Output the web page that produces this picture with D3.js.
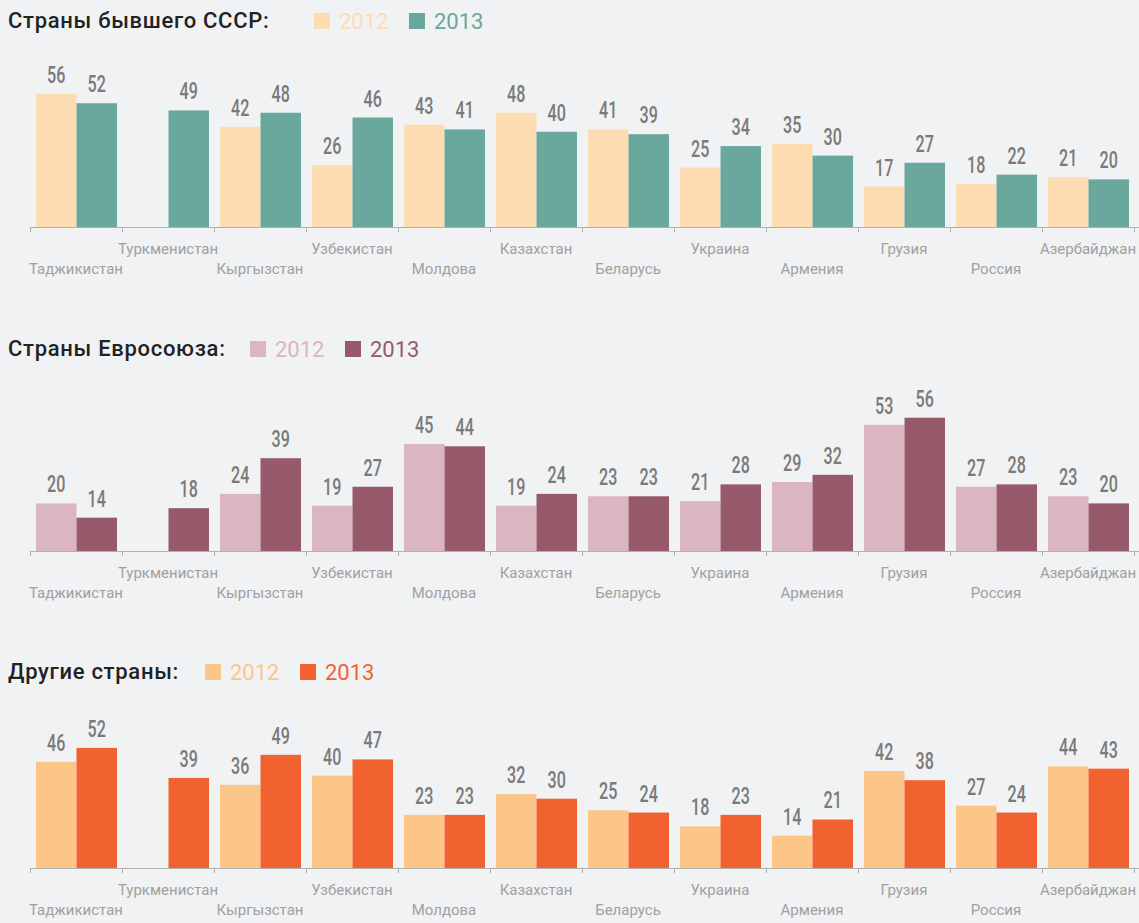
<!DOCTYPE html>
<html>
<head>
<meta charset="utf-8">
<script src="https://cdn.jsdelivr.net/npm/d3@7"></script>
<style>
body { margin: 0; background: #f1f2f4; }
svg { display: block; }
.title { font-family: Roboto, "Noto Sans", sans-serif; font-size: 22px; font-weight: 500; letter-spacing: 0.7px; fill: #222; }
.legend { font-family: Roboto, "Noto Sans", sans-serif; font-size: 22px; }
.val { font-family: Roboto, "Noto Sans", sans-serif; font-size: 23px; font-weight: 500; fill: #7a7a7a; }
.cat { font-family: Roboto, "Noto Sans", sans-serif; font-size: 15px; fill: #a0a0a0; }
.axis path, .axis line { stroke: #b0b0b0; }
</style>
</head>
<body>
<script>
var countries = ["Таджикистан", "Туркменистан", "Кыргызстан", "Узбекистан", "Молдова", "Казахстан",
                 "Беларусь", "Украина", "Армения", "Грузия", "Россия", "Азербайджан"];
var years = ["2012", "2013"];

var ussr2012 = [56, null, 42, 26, 43, 48, 41, 25, 35, 17, 18, 21];
var ussr2013 = [52, 49, 48, 46, 41, 40, 39, 34, 30, 27, 22, 20];
var eu2012 = [20, null, 24, 19, 45, 19, 23, 21, 29, 53, 27, 23];
var eu2013 = [14, 18, 39, 27, 44, 24, 23, 28, 32, 56, 28, 20];
var other2012 = [46, null, 36, 40, 23, 32, 25, 18, 14, 42, 27, 44];
var other2013 = [52, 39, 49, 47, 23, 30, 24, 23, 21, 38, 24, 43];

var panels = [
  {title: "Страны бывшего СССР:", a: ussr2012, b: ussr2013, ca: "#fddcb1", cb: "#6aa79c",
   titleY: 20, base: 227, pxPerUnit: 2.38, leg: [314, 409]},
  {title: "Страны Евросоюза:", a: eu2012, b: eu2013, ca: "#dbb6c0", cb: "#965a6b",
   titleY: 348, base: 551, pxPerUnit: 2.38, leg: [250, 345]},
  {title: "Другие страны:", a: other2012, b: other2013, ca: "#fdc689", cb: "#f2622e",
   titleY: 671, base: 868, pxPerUnit: 2.31, leg: [205, 300]}
];

var W = 1139, H = 923;
var svg = d3.select("body").append("svg").attr("width", W).attr("height", H);

var x = d3.scaleBand().domain(countries).range([30, 1134]).paddingInner(0).paddingOuter(0);
var inner = d3.scaleBand().domain(years).range([6, 87]);
var tickScale = d3.scaleLinear().domain([0, 12]).range([30, 1134]);

panels.forEach(function(p){
  var g = svg.append("g");
  var y = d3.scaleLinear().domain([0, 60]).range([p.base, p.base - 60 * p.pxPerUnit]);

  g.append("text").attr("class", "title").attr("x", 8).attr("y", p.titleY)
    .attr("dy", "0.35em").text(p.title);

  [[p.ca, "2012"], [p.cb, "2013"]].forEach(function(l, i){
    g.append("rect").attr("x", p.leg[i]).attr("y", p.titleY - 7)
      .attr("width", 16).attr("height", 16).attr("fill", l[0]);
    g.append("text").attr("class", "legend").attr("x", p.leg[i] + 25).attr("y", p.titleY + 1)
      .attr("dy", "0.35em").attr("fill", l[0]).text(l[1]);
  });

  var rows = [];
  countries.forEach(function(c, i){
    rows.push({c: c, yr: "2012", v: p.a[i], col: p.ca});
    rows.push({c: c, yr: "2013", v: p.b[i], col: p.cb});
  });
  rows = rows.filter(function(d){ return d.v != null; });

  g.selectAll("rect.bar").data(rows).enter().append("rect")
    .attr("class", "bar")
    .attr("x", function(d){ return x(d.c) + inner(d.yr); })
    .attr("width", inner.bandwidth())
    .attr("y", function(d){ return y(d.v); })
    .attr("height", function(d){ return y(0) - y(d.v); })
    .attr("fill", function(d){ return d.col; });

  // condensed look: squeeze the numbers horizontally
  g.selectAll("text.val").data(rows).enter().append("text")
    .attr("class", "val")
    .attr("text-anchor", "middle")
    .attr("transform", function(d){
      var cx = x(d.c) + inner(d.yr) + inner.bandwidth() / 2;
      return "translate(" + cx + "," + (y(d.v) - 11) + ") scale(0.7,1)";
    })
    .text(function(d){ return d.v; });

  var axis = d3.axisBottom(tickScale).tickValues(d3.range(13)).tickSize(5).tickSizeOuter(0).tickFormat("");
  var ag = g.append("g").attr("class", "axis").attr("transform", "translate(0," + p.base + ")").call(axis);
  ag.select(".domain").attr("d", "M30,0.5H1139");

  g.selectAll("text.cat").data(countries).enter().append("text")
    .attr("class", "cat")
    .attr("text-anchor", "middle")
    .attr("x", function(d){ return x(d) + x.bandwidth() / 2; })
    .attr("y", function(d, i){ return p.base + (i % 2 ? 22 : 42); })
    .attr("dy", "0.35em")
    .text(function(d){ return d; });
});
</script>
</body>
</html>
